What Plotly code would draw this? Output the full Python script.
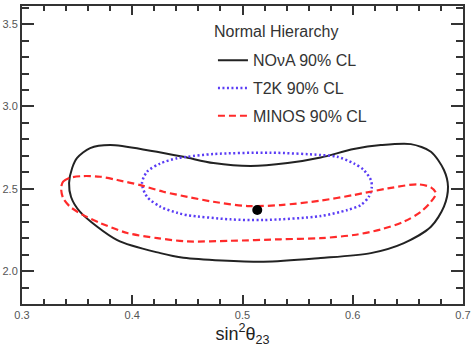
import plotly.graph_objects as go

# NOvA 90% CL contour (sin^2 theta23, dm2 in 1e-3 eV^2)
nova_x = [0.3427, 0.3455, 0.350, 0.3618, 0.380, 0.4164, 0.4464, 0.4736, 0.5073, 0.5409,
          0.5709, 0.6009, 0.6255, 0.6527, 0.6709, 0.6827, 0.6864, 0.6827, 0.6709, 0.6464,
          0.6164, 0.5709, 0.5191, 0.4464, 0.4255, 0.3864, 0.3527, 0.3445, 0.3427]
nova_y = [2.535, 2.626, 2.687, 2.747, 2.765, 2.731, 2.694, 2.656, 2.638, 2.656,
          2.690, 2.741, 2.765, 2.771, 2.725, 2.614, 2.512, 2.391, 2.269, 2.170,
          2.109, 2.079, 2.057, 2.081, 2.109, 2.188, 2.360, 2.450, 2.535]

# T2K 90% CL contour
t2k_x = [0.4088, 0.4134, 0.4255, 0.4406, 0.4497, 0.4736, 0.5255, 0.5709, 0.5861, 0.6009,
         0.6100, 0.6164, 0.6173, 0.6145, 0.6073, 0.5952, 0.5709, 0.5191, 0.4891, 0.4497,
         0.4406, 0.4255, 0.4134, 0.4088]
t2k_y = [2.533, 2.603, 2.654, 2.685, 2.694, 2.711, 2.719, 2.705, 2.694, 2.654,
         2.614, 2.553, 2.512, 2.451, 2.401, 2.371, 2.334, 2.310, 2.314, 2.340,
         2.354, 2.391, 2.451, 2.533]

# MINOS 90% CL contour
minos_x = [0.3355, 0.3373, 0.3436, 0.3555, 0.3709, 0.3864, 0.4073, 0.4282, 0.4500, 0.4736,
           0.5045, 0.5345, 0.5709, 0.6009, 0.6318, 0.6591, 0.6709, 0.6755, 0.6709, 0.6618,
           0.6464, 0.6255, 0.6009, 0.5709, 0.5345, 0.4891, 0.4500, 0.4227, 0.3955, 0.3709,
           0.3555, 0.3436, 0.3373, 0.3355]
minos_y = [2.504, 2.543, 2.567, 2.577, 2.573, 2.553, 2.522, 2.482, 2.451, 2.421,
           2.395, 2.401, 2.428, 2.462, 2.502, 2.527, 2.508, 2.472, 2.421, 2.360,
           2.300, 2.253, 2.219, 2.200, 2.193, 2.184, 2.180, 2.200, 2.231, 2.292,
           2.340, 2.391, 2.443, 2.504]

# NOvA best fit point
best_x = [0.5134]
best_y = [2.371]

FONT = "Arial, Liberation Sans"

fig = go.Figure()
fig.add_trace(go.Scatter(
    x=nova_x, y=nova_y, mode="lines", name="NOνA 90% CL",
    line=dict(color="#222222", width=2, shape="spline", smoothing=0.8),
    legendgroup="a",
))
fig.add_trace(go.Scatter(
    x=t2k_x, y=t2k_y, mode="lines", name="T2K 90% CL",
    line=dict(color="#5a3cf5", width=2.5, dash="2px,2.5px", shape="spline", smoothing=0.8),
    legendgroup="b",
))
fig.add_trace(go.Scatter(
    x=minos_x, y=minos_y, mode="lines", name="MINOS 90% CL",
    line=dict(color="#ff2a2a", width=2.2, dash="7px,4px", shape="spline", smoothing=0.8),
    legendgroup="c",
))
fig.add_trace(go.Scatter(
    x=best_x, y=best_y, mode="markers", showlegend=False,
    marker=dict(color="black", size=10),
))

axis_common = dict(
    showline=True, linecolor="#333333", linewidth=2, mirror="allticks",
    ticks="inside", tickcolor="#333333", tickwidth=1.5,
    showgrid=False, zeroline=False, automargin=False,
    tickfont=dict(family=FONT, size=11, color="#555555"),
)

fig.update_layout(
    width=471, height=347,
    margin=dict(l=22, r=8, t=6, b=43),
    plot_bgcolor="white", paper_bgcolor="white",
    showlegend=True,
    legend=dict(
        x=0.433, y=0.875, xanchor="left", yanchor="top",
        bgcolor="rgba(0,0,0,0)",
        font=dict(family=FONT, size=16, color="#333333"),
        tracegroupgap=4,
    ),
    annotations=[dict(
        text="Normal Hierarchy", x=0.43, y=0.913, xref="paper", yref="paper",
        xanchor="left", yanchor="middle", showarrow=False,
        font=dict(family=FONT, size=16, color="#333333"),
    )],
    xaxis=dict(
        range=[0.3, 0.7], dtick=0.1, tick0=0.3, tickformat=".1f", ticklen=9,
        minor=dict(dtick=0.02, ticklen=5, ticks="inside", tickcolor="#333333"),
        title=dict(text="sin<sup>2</sup>θ<sub>23</sub>", standoff=2,
                   font=dict(family=FONT, size=18, color="#222222")),
        **axis_common,
    ),
    yaxis=dict(
        range=[1.8, 3.61], dtick=0.5, tick0=0, tickformat=".1f", ticklen=12,
        minor=dict(dtick=0.1, ticklen=7, ticks="inside", tickcolor="#333333"),
        **axis_common,
    ),
)

# drop the browser's default body margin so the figure sits at the window corner
fig.write_html("out.html", config={"displayModeBar": False},
               post_script="document.body.style.margin='0';")
